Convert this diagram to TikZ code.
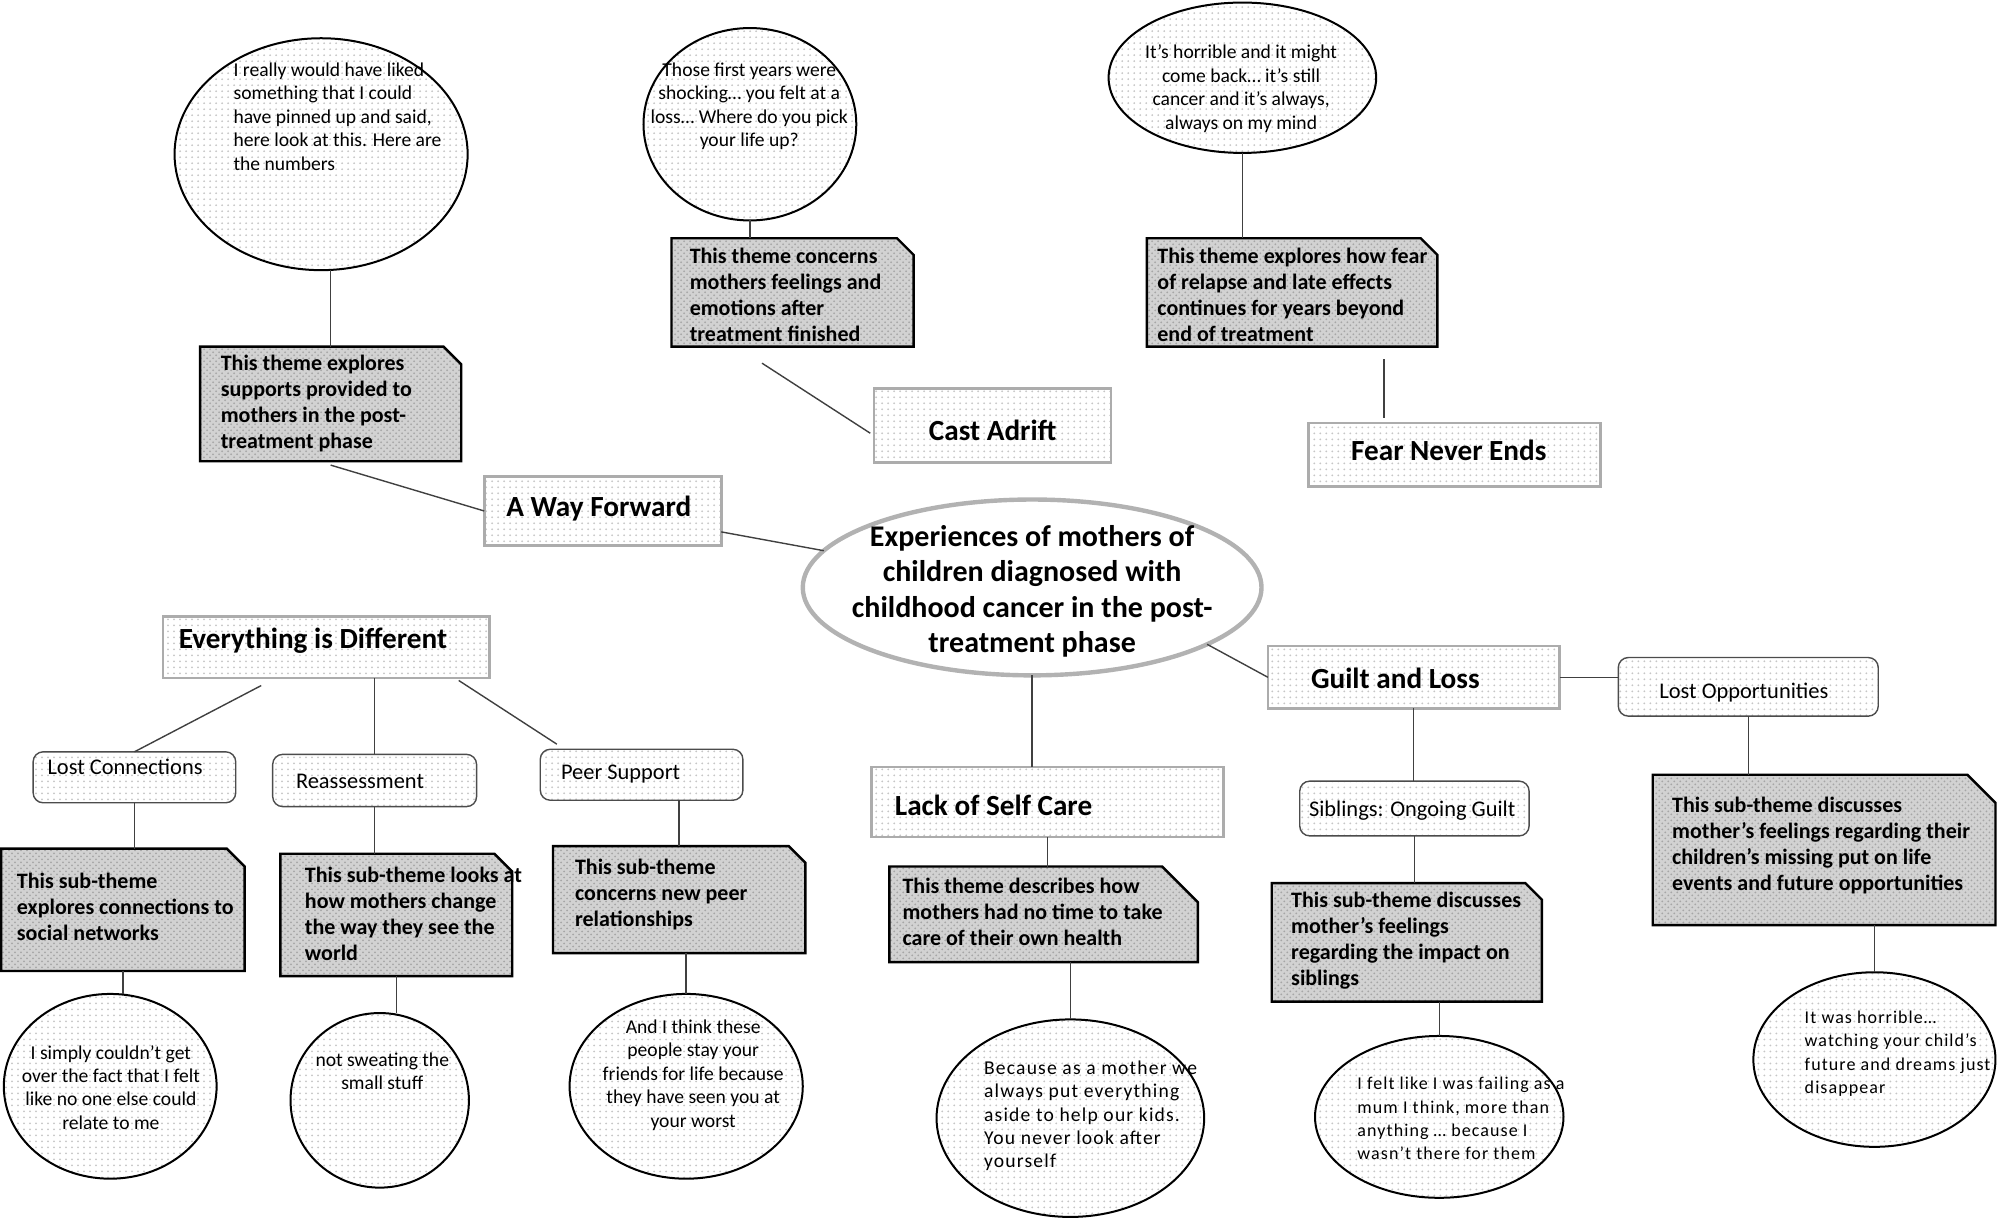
\documentclass[tikz,border=0pt]{standalone}
\usepackage{fontspec}
\setmainfont{Carlito}
\newfontfamily\spacedfont[LetterSpace=6]{Carlito}
\usetikzlibrary{shapes.geometric,patterns,calc}
\newdimen\pxu \pxu=0.637pt
\newcommand{\qfont}{\fontsize{9.8}{11.7}\selectfont}
\newcommand{\nfont}{\bfseries\fontsize{11}{13}\selectfont}
\newcommand{\tfont}{\bfseries\fontsize{14.6}{16}\selectfont}
\newcommand{\sfont}{\fontsize{11.2}{12.5}\selectfont}
\newcommand{\notebg}[2]{\draw[noteline] (#1.north west) -- ($(#1.north east)+(-#2,0)$) -- ($(#1.north east)+(0,#2)$) -- (#1.south east) -- (#1.south west) -- cycle;}
\tikzset{
  sz/.style 2 args={minimum width=#1\pxu, minimum height=#2\pxu, inner sep=0pt, outer sep=0pt},
  lightfill/.style={preaction={fill=white}, pattern=dots, pattern color=gray!45},
  quote/.style={ellipse, draw=black, line width=1pt, lightfill},
  theme/.style={rectangle, draw=gray!65, line width=1.3pt, lightfill},
  subtheme/.style={rectangle, rounded corners=5pt, draw=gray!60!black, line width=0.7pt, lightfill},
  notebox/.style={rectangle},
  noteline/.style={draw=black, line width=1.2pt, line join=miter, preaction={fill=gray!35}, pattern=crosshatch dots, pattern color=gray!70},
  conn/.style={draw=black!75, line width=0.7pt},
  qt/.style={inner sep=0pt, font=\qfont, align=left, anchor=north west},
  qc/.style={inner sep=0pt, font=\qfont, align=center, anchor=north},
  qs/.style={inner sep=0pt, font=\spacedfont\fontsize{9.8}{11.7}\selectfont, align=left, anchor=north west},
  qss/.style={inner sep=0pt, font=\spacedfont\fontsize{9}{11.7}\selectfont, align=left, anchor=north west},
  nt/.style={inner sep=0pt, font=\nfont, align=left, anchor=north west},
  tt/.style={inner sep=0pt, font=\tfont, anchor=base west},
  tc/.style={inner sep=0pt, font=\tfont, anchor=base},
  st/.style={inner sep=0pt, font=\sfont, anchor=base west},
}
\begin{document}
\begin{tikzpicture}[x=0.637pt, y=-0.637pt]
\useasboundingbox (0,0) rectangle (1568,957);

% ---------- shapes ----------
\node[quote, sz={230}{182}] (q1) at (252,121) {};
\node[notebox, sz={205}{90}] (n1) at (259.5,317) {}; \notebg{n1}{14}
\node[theme, sz={186}{54}] (aw) at (473,401) {};
\node[ellipse, draw=gray!60, line width=2.2pt, fill=white, sz={360}{138}] (ctr) at (810,461) {};

\node[quote, sz={167}{151}] (q2) at (588.5,97.5) {};
\node[notebox, sz={190}{85}] (n2) at (622,229.5) {}; \notebg{n2}{13}
\node[theme, sz={186}{58}] (ca) at (779,334) {};

\node[quote, sz={210}{118}] (q3) at (975,61) {};
\node[notebox, sz={228}{85}] (n3) at (1014,229.5) {}; \notebg{n3}{13}
\node[theme, sz={229}{50}] (fe) at (1141.5,357) {};

\node[theme, sz={256}{48}] (ed) at (256,508) {};
\node[subtheme, sz={159}{40}] (lc) at (105.5,610) {};
\node[subtheme, sz={160}{41}] (re) at (294,612.5) {};
\node[subtheme, sz={159}{40}] (ps) at (503.5,608) {};
\node[notebox, sz={191}{96}] (lcn) at (96.5,714) {}; \notebg{lcn}{14}
\node[notebox, sz={182}{96}] (ren) at (311,718) {}; \notebg{ren}{14}
\node[notebox, sz={198}{84}] (psn) at (533,706) {}; \notebg{psn}{13}
\node[quote, sz={167}{145}] (lcq) at (86.5,852.5) {};
\node[quote, sz={140}{137}] (req) at (298,863.5) {};
\node[quote, sz={183}{145}] (psq) at (538.5,852.5) {};

\node[theme, sz={276}{55}] (ls) at (822,629.5) {};
\node[notebox, sz={242}{75}] (lsn) at (819,717.5) {}; \notebg{lsn}{28}
\node[quote, sz={210}{155}] (lsq) at (840,877.5) {};

\node[theme, sz={229}{49}] (gl) at (1109.5,531.5) {};
\node[subtheme, sz={204}{46}] (lo) at (1372,539) {};
\node[subtheme, sz={180}{43}] (sg) at (1110,634.5) {};
\node[notebox, sz={212}{93}] (sgn) at (1104,739.5) {}; \notebg{sgn}{13}
\node[quote, sz={195}{127}] (sgq) at (1129.5,876.5) {};
\node[notebox, sz={269}{118}] (lon) at (1431.5,667) {}; \notebg{lon}{22}
\node[quote, sz={190}{137}] (loq) at (1471,831.5) {};

% ---------- texts ----------
\node[inner sep=0pt, align=center, font=\bfseries\fontsize{15}{17.8}\selectfont] (ctrt) at (810,464)
      {Experiences of mothers of\\children diagnosed with\\childhood cancer in the post-\\treatment phase};
\node[qt] (q1t) at (183,49) {I really would have liked\\something that I could\\have pinned up and said,\\here look at this. Here are\\the numbers};
\node[nt] (n1t) at (173,278) {This theme explores\\supports provided to\\mothers in the post-\\treatment phase};
\node[tt] (awt) at (397,405) {A Way Forward};

\node[qc] (q2t) at (588,49) {Those first years were\\shocking… you felt at a\\loss… Where do you pick\\your life up?};
\node[nt] (n2t) at (541,194) {This theme concerns\\mothers feelings and\\emotions after\\treatment finished};
\node[tc] (cat) at (779,346) {Cast Adrift};

\node[qc] (q3t) at (974,35) {It’s horrible and it might\\come back… it’s still\\cancer and it’s always,\\always on my mind};
\node[nt] (n3t) at (908,194) {This theme explores how fear\\of relapse and late effects\\continues for years beyond\\end of treatment};
\node[tc] (fet) at (1137,361) {Fear Never Ends};

\node[tt] (edt) at (140,509) {Everything is Different};
\node[st] (lct) at (37,608) {Lost Connections};
\node[st] (ret) at (232,619) {Reassessment};
\node[st] (pst) at (440,612) {Peer Support};
\node[nt] (lcnt) at (13,685) {This sub-theme\\explores connections to\\social networks};
\node[nt] (rent) at (239,680) {This sub-theme looks at\\how mothers change\\the way they see the\\world};
\node[nt] (psnt) at (451,674) {This sub-theme\\concerns new peer\\relationships};
\node[qc] (lcqt) at (87,820) {I simply couldn’t get\\over the fact that I felt\\like no one else could\\relate to me};
\node[qc] (reqt) at (300,826) {not sweating the\\small stuff};
\node[qc] (psqt) at (544,800) {And I think these\\people stay your\\friends for life because\\they have seen you at\\your worst};

\node[tt] (lst) at (702,640) {Lack of Self Care};
\node[nt] (lsnt) at (708,689) {This theme describes how\\mothers had no time to take\\care of their own health};
\node[qs] (lsqt) at (772,832) {Because as a mother we\\always put everything\\aside to help our kids.\\You never look after\\yourself};

\node[tc] (glt) at (1095,540) {Guilt and Loss};
\node[st] (lot) at (1302,548) {Lost Opportunities};
\node[st] (sgt) at (1027,641) {Siblings: Ongoing Guilt};
\node[nt] (sgnt) at (1013,700) {This sub-theme discusses\\mother’s feelings\\regarding the impact on\\siblings};
\node[qss] (sgqt) at (1065,845) {I felt like I was failing as a\\mum I think, more than\\anything … because I\\wasn’t there for them};
\node[nt] (lont) at (1312,625) {This sub-theme discusses\\mother’s feelings regarding their\\children’s missing put on life\\events and future opportunities};
\node[qss] (loqt) at (1416,793) {It was horrible…\\watching your child’s\\future and dreams just\\disappear};

% ---------- connectors ----------
\draw[conn] (n1.north) -- (n1.north |- q1.south);
\draw[conn] ($(n1.south)+(0,3)$) -- (aw.west);
\draw[conn] (aw.-10) -- (ctr.170);
\draw[conn] (q2.south) -- (q2.south |- n2.north);
\draw[conn] ($(n2.south)+(-24,13)$) -- ($(ca.west)+(-3,6)$);
\draw[conn] (q3.south) -- (q3.south |- n3.north);
\draw[conn] ($(fe.north west)+(59,-4)$) -- ($(fe.north west)+(59,-50)$);
\draw[conn] ($(ed.south)+(-51,6)$) -- (lc.north);
\draw[conn] (re.north) -- (re.north |- ed.south);
\draw[conn] ($(ed.south east)+(-24,2)$) -- ($(ps.north west)+(13,-4)$);
\draw[conn] (lc.south) -- (lc.south |- lcn.north);
\draw[conn] (re.south) -- (re.south |- ren.north);
\draw[conn] (psn.north) -- (psn.north |- ps.south);
\draw[conn] (lcn.south) -- (lcn.south |- lcq.north);
\draw[conn] (ren.south) -- (ren.south |- req.north);
\draw[conn] (psq.north) -- (psq.north |- psn.south);
\draw[conn] (ctr.south) -- (ctr.south |- ls.north);
\draw[conn] (ls.south) -- (ls.south |- lsn.north);
\draw[conn] (lsq.north) -- (lsq.north |- lsn.south);
\draw[conn] (ctr.-18) -- (gl.west);
\draw[conn] (gl.east) -- (gl.east -| lo.west);
\draw[conn] (gl.south) -- (gl.south |- sg.north);
\draw[conn] (sg.south) -- (sg.south |- sgn.north);
\draw[conn] (sgq.north) -- (sgq.north |- sgn.south);
\draw[conn] (lo.south) -- (lo.south |- lon.north);
\draw[conn] (loq.north) -- (loq.north |- lon.south);
\end{tikzpicture}
\end{document}
